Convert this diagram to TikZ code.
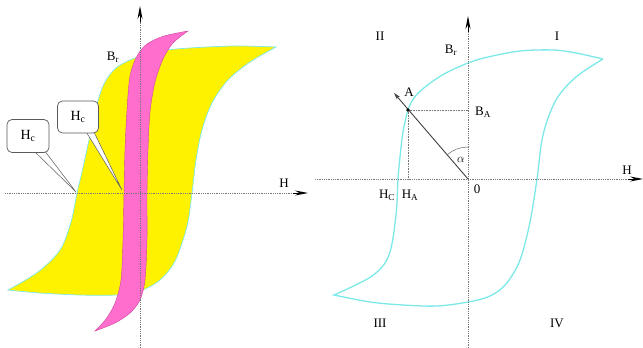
\documentclass[tikz,border=0pt]{standalone}
\usepackage{fontspec}
\setmainfont{Liberation Serif}
\usetikzlibrary{arrows.meta}
\definecolor{loopcyan}{RGB}{125,232,232}
\definecolor{hotpink}{RGB}{255,110,205}
\definecolor{pinkedge}{RGB}{205,70,160}
\definecolor{axisgray}{RGB}{120,120,120}
\definecolor{boxgray}{RGB}{90,90,90}
\begin{document}
\begin{tikzpicture}[x=1pt,y=-1pt,
  axisline/.style={axisgray, densely dotted, line width=0.8pt},
  axtip/.style={black, line width=0.8pt, -{Stealth[length=13pt,width=5pt]}},
  guide/.style={axisgray, densely dotted, line width=0.6pt},
  lbl/.style={font=\fontsize{13}{15}\selectfont, inner sep=0pt},
  callbox/.style={draw=boxgray, fill=white, rounded corners=5pt, line width=0.7pt, font=\fontsize{14}{16}\selectfont},
  pointer/.style={draw=boxgray, fill=white, line width=0.5pt, line join=miter},
  yellowloop/.style={fill=yellow, draw=loopcyan, line width=0.7pt},
  pinkloop/.style={fill=hotpink, draw=pinkedge, line width=0.4pt},
  cyanloop/.style={draw=loopcyan, line width=1.3pt, line join=miter}]
\useasboundingbox (0,0) rectangle (643,348);

% ---------------- left panel ----------------
\filldraw[yellowloop] plot[smooth, tension=0.55] coordinates {(276,47) (235,46) (190,48) (160,51) (135,58) (116,68) (104,84) (96,108) (89,140) (82,172) (77,193) (71,222) (60,250) (38,272) (8,290)}
  -- plot[smooth, tension=0.55] coordinates {(8,290) (40,293) (80,295) (115,295) (140,291) (160,280) (174,263) (182,243) (188,222) (192,193) (196,160) (202,130) (212,103) (228,80) (250,62) (276,47)} -- cycle;
\filldraw[pinkloop] plot[smooth, tension=0.5] coordinates {(188,31) (164,36) (147,44) (137,56) (130,76) (127,110) (125,150) (124,193) (123,240) (121,280) (115,303) (106,319) (95,331)}
  -- plot[smooth, tension=0.5] coordinates {(95,331) (115,323) (130,313) (140,300) (145,280) (147,240) (147,193) (148,150) (150,112) (155,82) (163,59) (173,43) (188,31)} -- cycle;

\coordinate (LHs) at (5,193);
\coordinate (LHe) at (293,193);
\coordinate (LHtip) at (308,193);
\coordinate (LVs) at (140,348);
\coordinate (LVe) at (140,22);
\coordinate (LVtip) at (140,6);
\draw[axisline] (LHs) -- (LHe);
\draw[axtip] (LHe) -- (LHtip);
\draw[axisline] (LVs) -- (LVe);
\draw[axtip] (LVe) -- (LVtip);

\node[lbl] (LH) at (284,183) {H};
\node[lbl] (LBr) at (113,57) {B\textsubscript{r}};

% callouts
\coordinate (tip1) at (76,192);
\coordinate (tip2) at (122,190);
\coordinate (b1a) at (33,150);
\coordinate (b1b) at (44,150);
\coordinate (b2a) at (85,130);
\coordinate (b2b) at (93,130);
\filldraw[pointer] (b1a) -- (tip1) -- (b1b) -- cycle;
\filldraw[pointer] (b2a) -- (tip2) -- (b2b) -- cycle;
\node[callbox, minimum width=42pt, minimum height=33pt] (hc1) at (28,136) {H\textsubscript{c}};
\node[callbox, minimum width=41pt, minimum height=32pt] (hc2) at (78,117) {H\textsubscript{c}};

% ---------------- right panel ----------------
\draw[cyanloop] plot[smooth, tension=0.55] coordinates {(603,59) (576,53) (553,50) (520,51) (488,57) (468,63) (444,74) (425,87) (414,98) (408,110) (403,132) (400,157) (398,179) (396,215) (389,255) (372,276) (334,295)}
  -- plot[smooth, tension=0.55] coordinates {(334,295) (370,302) (403,305) (437,306) (468,302) (490,296) (506,284) (520,260) (530,222) (537,179) (543,135) (556,100) (576,77) (603,59)};

\coordinate (O) at (468,179);
\coordinate (RHs) at (315,179);
\coordinate (RHe) at (628,179);
\coordinate (RHtip) at (643,179);
\coordinate (RVs) at (468,348);
\coordinate (RVe) at (468,32);
\coordinate (RVtip) at (468,16);
\draw[axisline] (RHs) -- (RHe);
\draw[axtip] (RHe) -- (RHtip);
\draw[axisline] (RVs) -- (RVe);
\draw[axtip] (RVe) -- (RVtip);

\coordinate (A) at (408,110);
\coordinate (Atip) at (394,93);
\coordinate (BAax) at (468,110);
\coordinate (HAax) at (408,179);
\draw[guide] (A) -- (BAax);
\draw[guide] (A) -- (HAax);
\draw[black!75, line width=0.9pt, -{Stealth[length=7pt,width=4pt]}] (O) -- (Atip);
\fill[black] (A) circle (1.8pt);
\draw[black!60, line width=0.5pt] (468,147) arc[start angle=-90, end angle=-131, radius=32];

\node[lbl] (q2) at (380,36) {II};
\node[lbl] (q1) at (557,36) {I};
\node[lbl] (q3) at (380,323) {III};
\node[lbl] (q4) at (557,323) {IV};
\node[lbl] (RBr) at (451,50) {B\textsubscript{r}};
\node[lbl] (RBA) at (483,112) {B\textsubscript{A}};
\node[lbl] (RA) at (409,92) {A};
\node[lbl] (RH) at (627,170) {H};
\node[lbl] (R0) at (477,189) {0};
\node[lbl] (RHC) at (387,195) {H\textsubscript{C}};
\node[lbl] (RHA) at (410,195) {H\textsubscript{A}};
\node[lbl] (alpha) at (461,160) {$\alpha$};
\end{tikzpicture}
\end{document}
